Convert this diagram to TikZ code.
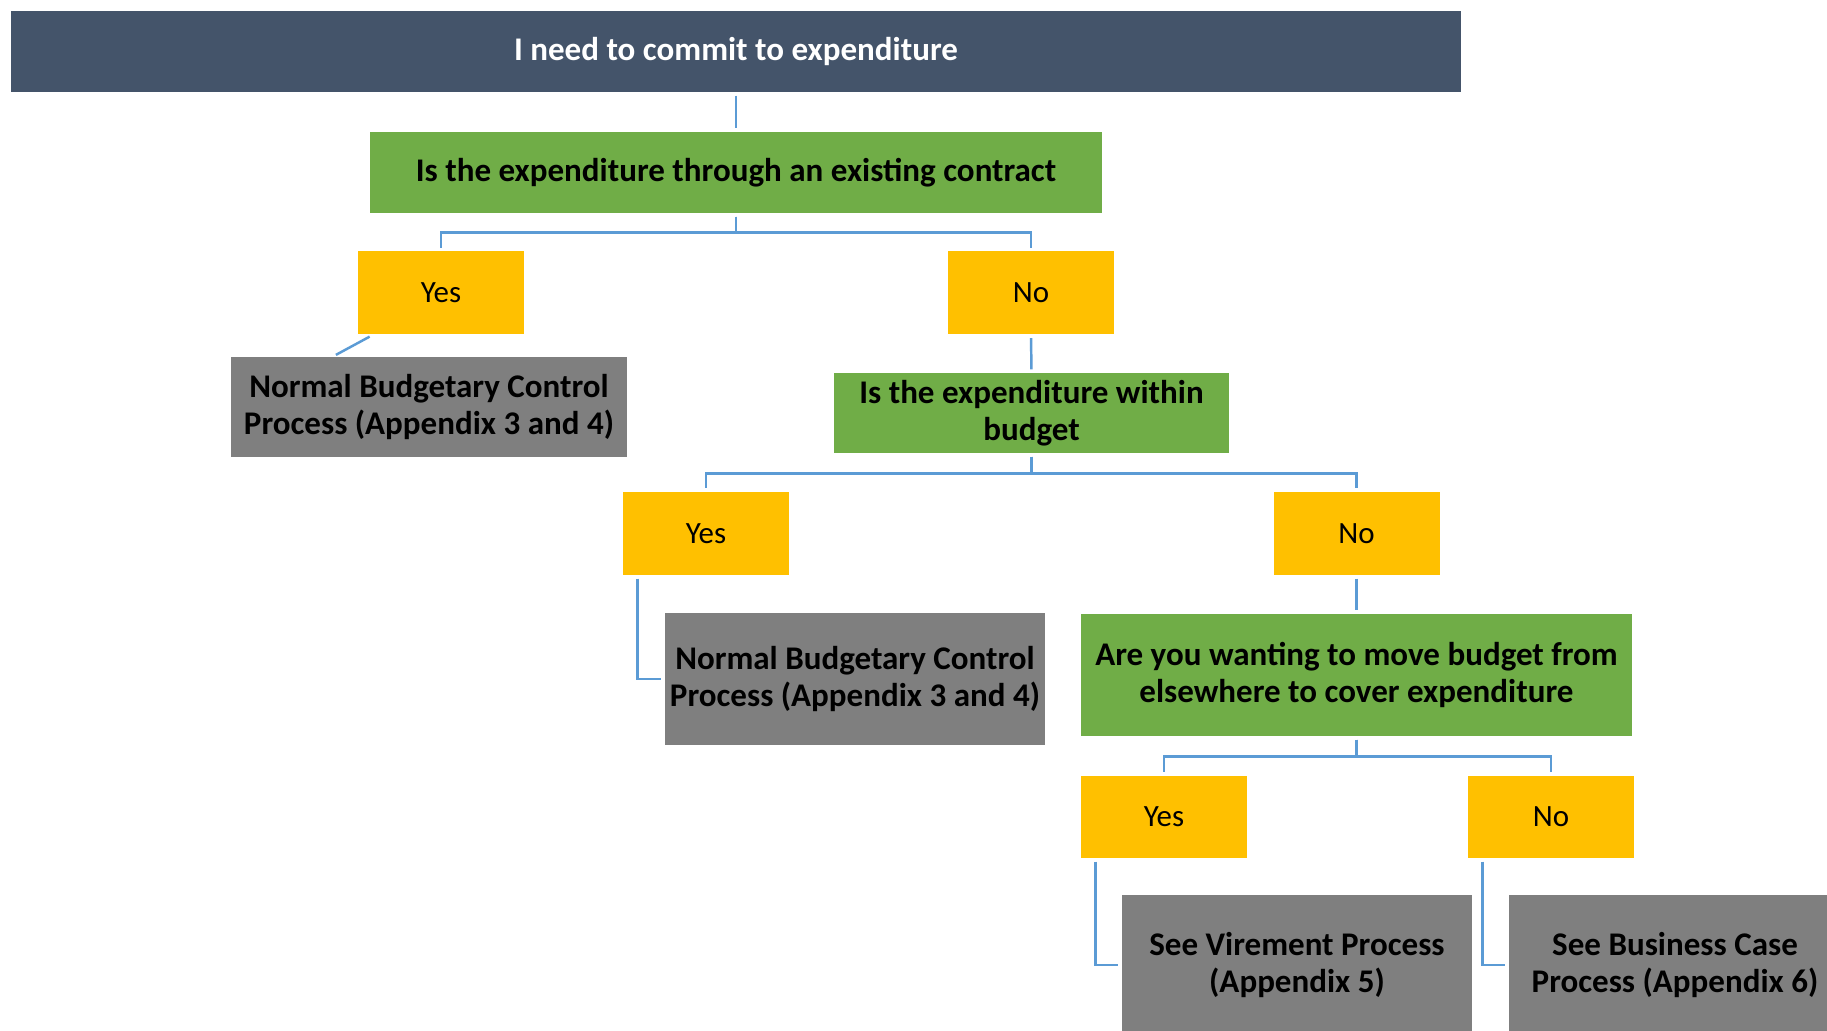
\documentclass[tikz,border=0pt]{standalone}
\usepackage{fontspec}
\setmainfont{Carlito}
\definecolor{headblue}{HTML}{44546A}
\definecolor{askgreen}{HTML}{70AD47}
\definecolor{answergold}{HTML}{FFC000}
\definecolor{outgray}{HTML}{7F7F7F}
\definecolor{linkblue}{HTML}{5B9BD5}
\begin{document}
\begin{tikzpicture}[
  box/.style={inner sep=0pt,align=center,font=\fontsize{9.4}{10.6}\selectfont\bfseries},
  head/.style={box,fill=headblue,text=white,minimum width=14.5cm,minimum height=0.81cm},
  ask/.style={box,fill=askgreen},
  answer/.style={inner sep=0pt,fill=answergold,minimum width=1.66cm,minimum height=0.83cm,font=\fontsize{8.8}{10.6}\selectfont},
  result/.style={box,fill=outgray},
  link/.style={draw=linkblue,line width=0.7pt,shorten <=0.03cm,shorten >=0.03cm}]
  \clip (0,0) rectangle (18.27,-10.31);
  \fill[white] (0,0) rectangle (18.27,-10.31);
  \node[head] (need) at (7.36,-0.515) {I need to commit to expenditure};
  \node[ask,minimum width=7.32cm,minimum height=0.81cm] (contract) at (7.36,-1.725)
    {Is the expenditure through an existing contract};
  \node[answer] (yes1) at (4.41,-2.93) {Yes};
  \node[answer] (no1) at (10.31,-2.93) {No};
  \node[result,minimum width=3.96cm,minimum height=1.0cm] (normal1) at (4.29,-4.07)
    {Normal Budgetary Control\\Process (Appendix 3 and 4)};
  \node[ask,minimum width=3.95cm,minimum height=0.8cm] (budget) at (10.315,-4.13)
    {Is the expenditure within\\budget};
  \node[answer] (yes2) at (7.06,-5.335) {Yes};
  \node[answer] (no2) at (13.565,-5.335) {No};
  \node[result,minimum width=3.8cm,minimum height=1.32cm] (normal2) at (8.55,-6.79)
    {Normal Budgetary Control\\Process (Appendix 3 and 4)};
  \node[ask,minimum width=5.51cm,minimum height=1.22cm] (move) at (13.565,-6.75)
    {Are you wanting to move budget from\\elsewhere to cover expenditure};
  \node[answer,minimum height=0.82cm] (yes3) at (11.64,-8.17) {Yes};
  \node[answer,minimum height=0.82cm] (no3) at (15.51,-8.17) {No};
  % the last two boxes run past the page edge
  \node[result,minimum width=3.5cm,minimum height=1.4cm] (virement) at (12.97,-9.65)
    {See Virement Process\\(Appendix 5)};
  \node[result,minimum width=3.32cm,minimum height=1.4cm] (business) at (16.75,-9.65)
    {See Business Case\\Process (Appendix 6)};
  \draw[link] (need.south) -- (contract.north);
  \draw[link] (contract.south) -- ++(0,-0.19) -| (yes1.north);
  \draw[link] (contract.south) -- ++(0,-0.19) -| (no1.north);
  \draw[link] ([xshift=0.15cm]yes1.south west) -- ([xshift=1.03cm]normal1.north west);
  \draw[link] (no1.south) -- (budget.north);
  \draw[link] (budget.south) -- ++(0,-0.2) -| (yes2.north);
  \draw[link] (budget.south) -- ++(0,-0.2) -| (no2.north);
  \draw[link] ([xshift=0.15cm]yes2.south west) |- (normal2.west);
  \draw[link] (no2.south) -- (move.north);
  \draw[link] (move.south) -- ++(0,-0.2) -| (yes3.north);
  \draw[link] (move.south) -- ++(0,-0.2) -| (no3.north);
  \draw[link] ([xshift=0.15cm]yes3.south west) |- (virement.west);
  \draw[link] ([xshift=0.15cm]no3.south west) |- (business.west);
\end{tikzpicture}
\end{document}
